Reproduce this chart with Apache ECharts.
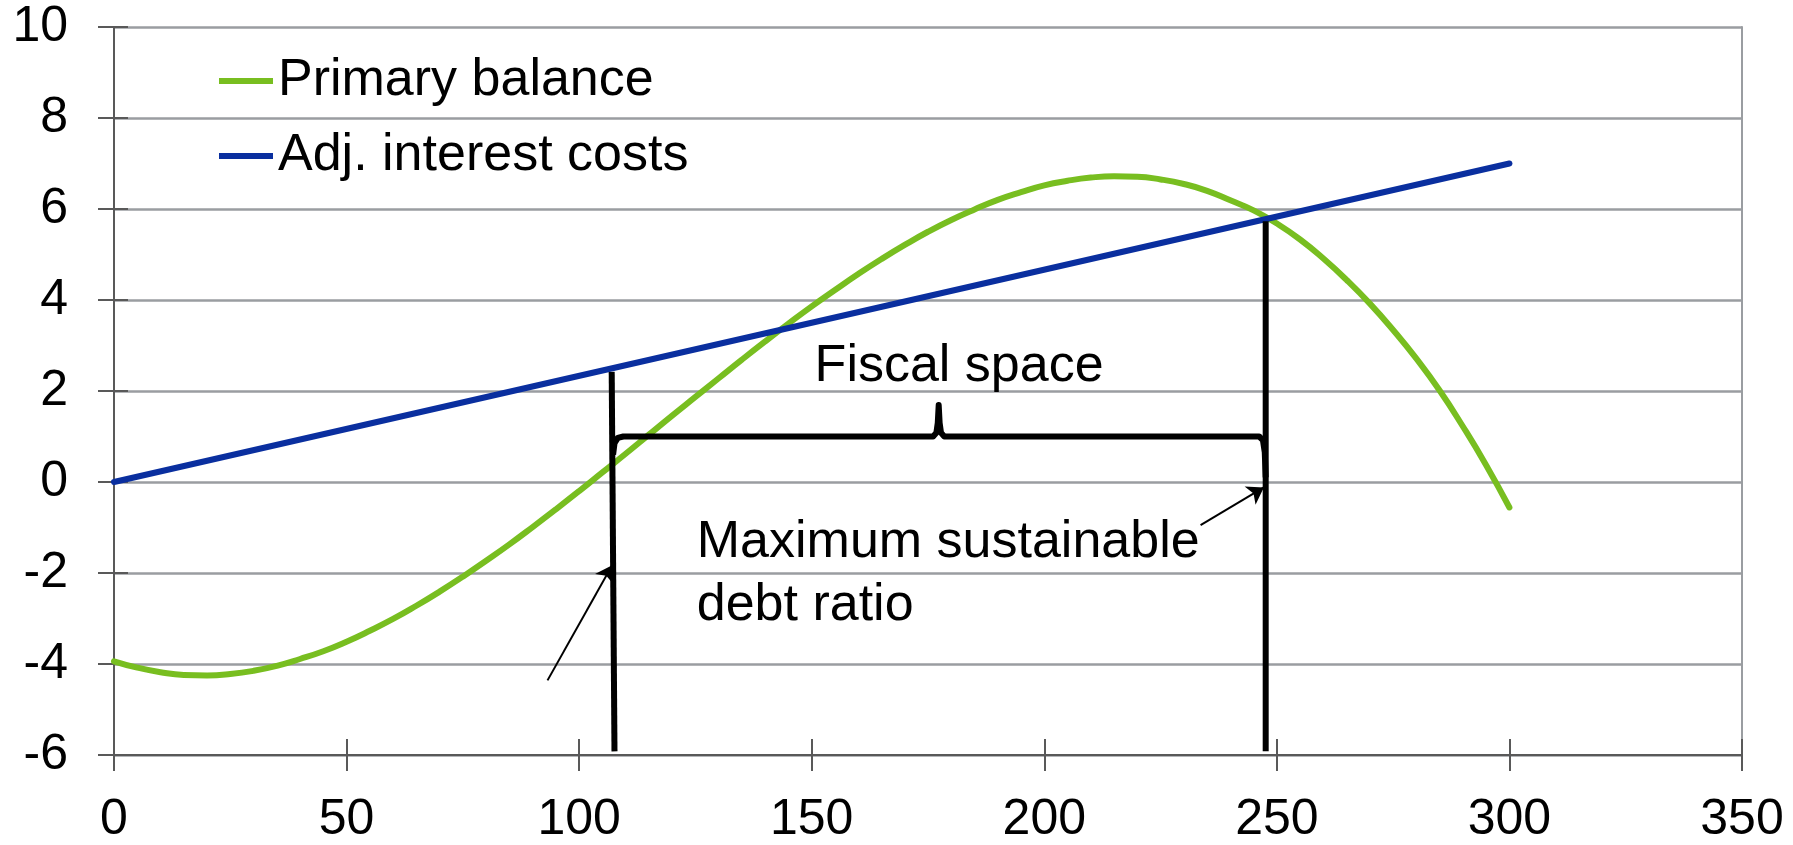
<!DOCTYPE html>
<html>
<head>
<meta charset="utf-8">
<title>Fiscal space</title>
<script src="https://cdn.jsdelivr.net/npm/echarts@6.0.0/dist/echarts.min.js"></script>
<style>
  html, body { margin: 0; padding: 0; background: #fff; }
  #main { width: 1793px; height: 845px; }
</style>
</head>
<body>
<div id="main"></div>
<script>
// debt ratio (x) -> primary balance, every 5 points
const debtRatio = [0, 5, 10, 15, 20, 25, 30, 35, 40, 45, 50, 55, 60, 65, 70, 75, 80, 85, 90, 95,
  100, 105, 110, 115, 120, 125, 130, 135, 140, 145, 150, 155, 160, 165, 170, 175, 180, 185,
  190, 195, 200, 205, 210, 215, 220, 225, 230, 235, 240, 245, 250, 255, 260, 265, 270, 275,
  280, 285, 290, 295, 300]
const primaryBalance = [-3.94, -4.08, -4.18, -4.24, -4.25, -4.22, -4.15, -4.04, -3.89, -3.72,
  -3.51, -3.27, -3.01, -2.72, -2.41, -2.08, -1.73, -1.37, -0.99, -0.6,
  -0.2, 0.21, 0.62, 1.04, 1.46, 1.87, 2.28, 2.69, 3.09, 3.48,
  3.86, 4.22, 4.57, 4.9, 5.21, 5.5, 5.76, 5.99, 6.2, 6.37,
  6.52, 6.62, 6.69, 6.72, 6.71, 6.65, 6.55, 6.4, 6.19, 5.97,
  5.68, 5.33, 4.91, 4.44, 3.92, 3.34, 2.71, 2.01, 1.22, 0.37, -0.56]

// adjusted interest costs, straight line
const interestX = [0, 300]
const interestCosts = [0, 7]

// annotation shapes, in data units
const leftBar = [[107.0, 2.42], [107.6, -5.92]]
const rightBar = [[247.6, 5.73], [247.6, -5.92]]
const brace = [[107.3, 0.6], [107.6, 0.85], [108.3, 0.97], [109.5, 1.0], [176.1, 1.0], [176.8, 1.08],
  [177.1, 1.3], [177.3, 1.69], [177.5, 1.3], [177.8, 1.08], [178.5, 1.0], [246.2, 1.0],
  [247.0, 0.92], [247.4, 0.65], [247.6, 0.1]]
const arrows = [
  [[93.2, -4.36], [107.1, -1.83]],
  [[233.6, -0.95], [247.2, -0.12]],
]
const notes = ['Fiscal space', 'Maximum sustainable\ndebt ratio']
const notePos = [[181.7, 2.54], [125.3, -2.03]]

const xTicks = { min: 0, max: 350, interval: 50 }
const yTicks = { min: -6, max: 10, interval: 2 }

const font = 'Liberation Sans, Arial, sans-serif'
const green = '#78be20'
const blue = '#0a2f9f'
const axisGray = '#595959'
const gridGray = '#9a9da1'

const chart = echarts.init(document.getElementById('main'))

const option = {
  animation: false,
  backgroundColor: '#fff',
  grid: { left: 114, right: 51, top: 27, bottom: 90, outerBoundsMode: 'none' },
  legend: {
    data: ['Primary balance', 'Adj. interest costs'],
    orient: 'vertical',
    left: 219,
    top: 51,
    padding: 0,
    icon: 'rect',
    itemWidth: 54,
    itemHeight: 6,
    itemGap: 15,
    selectedMode: false,
    textStyle: { fontSize: 52, lineHeight: 60, color: '#000', fontFamily: font },
  },
  xAxis: [
    {
      type: 'value',
      ...xTicks,
      axisLine: { show: true, onZero: false, lineStyle: { color: axisGray, width: 2 } },
      axisTick: { show: true, length: 16, lineStyle: { color: axisGray, width: 2 } },
      axisLabel: { fontSize: 50, color: '#000', margin: 40, fontFamily: font },
      splitLine: { show: false },
    },
    {
      // inner half of the cross ticks
      type: 'value',
      position: 'bottom',
      ...xTicks,
      axisLine: { show: false, onZero: false },
      axisTick: { show: true, inside: true, length: 16, lineStyle: { color: axisGray, width: 2 } },
      axisLabel: { show: false },
      splitLine: { show: false },
    },
  ],
  yAxis: [
    {
      type: 'value',
      ...yTicks,
      axisLine: { show: true, onZero: false, lineStyle: { color: axisGray, width: 2 } },
      axisTick: { show: true, length: 16, lineStyle: { color: axisGray, width: 2 } },
      axisLabel: { fontSize: 50, color: '#000', margin: 46, fontFamily: font },
      splitLine: { show: true, lineStyle: { color: gridGray, width: 2.5 } },
    },
    {
      type: 'value',
      position: 'left',
      ...yTicks,
      axisLine: { show: false, onZero: false },
      axisTick: { show: true, inside: true, length: 14, lineStyle: { color: axisGray, width: 2 } },
      axisLabel: { show: false },
      splitLine: { show: false },
    },
    {
      // plot area border on the right
      type: 'value',
      position: 'right',
      ...yTicks,
      axisLine: { show: true, onZero: false, lineStyle: { color: gridGray, width: 2 } },
      axisTick: { show: false },
      axisLabel: { show: false },
      splitLine: { show: false },
    },
  ],
  series: [
    {
      name: 'Primary balance',
      type: 'line',
      data: debtRatio.map((x, i) => [x, primaryBalance[i]]),
      smooth: true,
      symbol: 'none',
      itemStyle: { color: green },
      lineStyle: { color: green, width: 6, cap: 'round', join: 'round' },
      z: 2,
    },
    {
      name: 'Adj. interest costs',
      type: 'line',
      data: interestX.map((x, i) => [x, interestCosts[i]]),
      symbol: 'none',
      itemStyle: { color: blue },
      lineStyle: { color: blue, width: 6, cap: 'round' },
      z: 3,
    },
    {
      type: 'line',
      data: leftBar,
      symbol: 'none',
      silent: true,
      lineStyle: { color: '#000', width: 6 },
      z: 4,
    },
    {
      type: 'line',
      data: rightBar,
      symbol: 'none',
      silent: true,
      lineStyle: { color: '#000', width: 6 },
      z: 4,
    },
    {
      type: 'line',
      data: brace,
      symbol: 'none',
      silent: true,
      lineStyle: { color: '#000', width: 6, join: 'round' },
      z: 4,
    },
    {
      type: 'scatter',
      symbolSize: 0.1,
      silent: true,
      itemStyle: { color: 'transparent', opacity: 1 },
      data: [
        {
          value: notePos[0],
          label: { show: true, position: [0, 0], align: 'center', verticalAlign: 'middle',
            formatter: notes[0], fontSize: 52, color: '#000', fontFamily: font },
        },
        {
          value: notePos[1],
          label: { show: true, position: [0, 0], align: 'left', verticalAlign: 'middle',
            formatter: notes[1], fontSize: 52, lineHeight: 63, color: '#000', fontFamily: font },
        },
      ],
      markLine: {
        silent: true,
        symbol: ['none', 'arrow'],
        symbolSize: 16,
        label: { show: false },
        itemStyle: { color: '#000' },
        lineStyle: { color: '#000', width: 2, type: 'solid', opacity: 1 },
        data: arrows.map(a => [{ coord: a[0] }, { coord: a[1] }]),
      },
      z: 5,
    },
  ],
}

chart.setOption(option)
</script>
</body>
</html>
